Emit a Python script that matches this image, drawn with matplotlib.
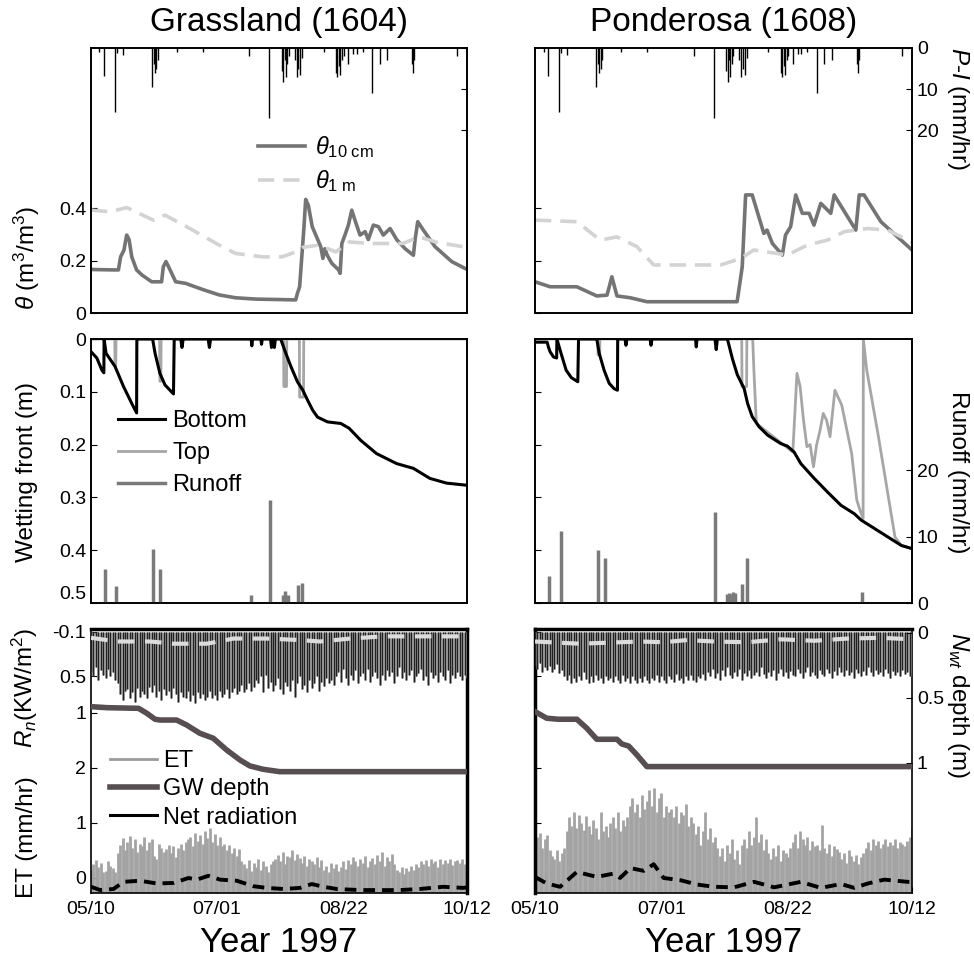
import numpy as np
import matplotlib
matplotlib.use('Agg')
import matplotlib.pyplot as plt
from matplotlib.lines import Line2D

plt.rcParams['font.family'] = 'Liberation Sans'
plt.rcParams['mathtext.fontset'] = 'custom'
plt.rcParams['mathtext.rm'] = 'Liberation Sans'
plt.rcParams['mathtext.it'] = 'Liberation Sans:italic'
plt.rcParams['mathtext.bf'] = 'Liberation Sans:bold'
plt.rcParams['xtick.direction'] = 'in'
plt.rcParams['ytick.direction'] = 'in'
plt.rcParams['axes.linewidth'] = 1.2

# ---- data (days since 05/10/1997) ----
date_ticks = [0, 52, 104, 155]
date_labels = ['05/10', '07/01', '08/22', '10/12']
site_names = ['Grassland (1604)', 'Ponderosa (1608)']

# precipitation minus interception (mm/hr), same storms at both sites
rain_day = [3.5, 5.4, 9.9, 10.6, 13, 25.1, 26.0, 26.5, 27.0, 27.5, 35.5, 46, 65.3, 73.4,
            78.7, 79.2, 79.8, 80.3, 80.8, 81.5, 84.0, 84.8, 85.5, 86.2, 87.0, 96,
            101.0, 101.6, 102.2, 102.8, 103.5, 104.2, 106.0, 108.0, 109.5, 112, 115.8,
            119.0, 122.0, 132.3, 132.7, 133.1, 151.0]
rain_pi = [1.0, 6.8, 15.6, 1.3, 1.8, 9.5, 4.0, 6.0, 5.0, 3.0, 1.0, 1.0, 2.0, 17.0,
           5.5, 8.3, 3.0, 7.0, 4.0, 2.0, 3.0, 7.0, 5.0, 6.5, 2.5, 1.0,
           6.0, 7.0, 4.5, 6.5, 3.0, 2.0, 4.0, 1.5, 1.5, 1.0, 11.0,
           4.0, 3.0, 4.0, 6.0, 3.0, 2.0]

# soil moisture
th10_day_g = [0, 4.5, 11.3, 12.2, 13.6, 14.7, 15.7, 16.8, 18.8, 21, 25, 29.1, 29.8, 30.9, 32,
              34.9, 39, 45.9, 52.8, 59.6, 67.9, 84.4, 85.1, 86.0, 87.8, 88.5, 89.6, 91.2, 94.7,
              95.6, 96.4, 97.4, 99.3, 102.1, 102.7, 103.4, 104.8, 106.1, 107.5, 108.8, 110.9,
              113, 114.3, 116.4, 118.5, 120.5, 123.3, 126.0, 129.5, 132.9, 133.6, 134.7, 137,
              141.8, 148.7, 155]
th10_g = [0.166, 0.165, 0.164, 0.214, 0.24, 0.297, 0.28, 0.214, 0.164, 0.145, 0.119, 0.119,
          0.176, 0.196, 0.176, 0.119, 0.113, 0.09, 0.069, 0.058, 0.053, 0.05, 0.075, 0.1, 0.329,
          0.433, 0.41, 0.329, 0.253, 0.208, 0.245, 0.22, 0.189, 0.164, 0.151, 0.265, 0.30, 0.335,
          0.392, 0.354, 0.297, 0.31, 0.28, 0.335, 0.329, 0.297, 0.322, 0.28, 0.245, 0.22, 0.28,
          0.348, 0.316, 0.253, 0.196, 0.166]
th1m_day_g = [0, 8, 14.7, 25.7, 30.5, 39.4, 52.8, 59.6, 70.6, 78.8, 84.4, 87.2, 94, 100.9,
              106.5, 114.8, 128.5, 135.4, 142.3, 155]
th1m_g = [0.392, 0.386, 0.402, 0.354, 0.373, 0.329, 0.259, 0.227, 0.214, 0.214, 0.233, 0.25,
          0.259, 0.233, 0.271, 0.265, 0.265, 0.29, 0.27, 0.25]

th10_day_p = [0, 6.2, 17.2, 25.4, 29.6, 31.6, 33.7, 39.2, 46.0, 83.1, 85.2, 86.6, 89.3, 94.1,
              95.4, 97.6, 101.7, 103, 105.1, 107.2, 109.9, 112.7, 114.7, 117.5, 121.6, 123,
              131.9, 133.3, 135.3, 142.2, 155]
th10_p = [0.119, 0.1, 0.1, 0.065, 0.068, 0.138, 0.065, 0.058, 0.043, 0.043, 0.176, 0.45, 0.45,
          0.303, 0.316, 0.265, 0.221, 0.297, 0.329, 0.45, 0.38, 0.38, 0.335, 0.418, 0.38, 0.45,
          0.316, 0.45, 0.45, 0.348, 0.24]
th1m_day_p = [0, 17.2, 26.8, 33.7, 41.9, 48.8, 76.3, 84.6, 90.0, 103.8, 112, 120.3, 127.2,
              136.8, 145, 155]
th1m_p = [0.354, 0.348, 0.278, 0.29, 0.253, 0.183, 0.183, 0.208, 0.24, 0.221, 0.259, 0.278,
          0.31, 0.322, 0.316, 0.27]

# wetting front depth (m)
wfb_day_g = [0, 2.4, 4.5, 5.3, 5.4, 6.2, 9.9, 13.4, 16.8, 18.8, 18.9, 25.4, 26.4, 28.4, 30.5,
             34.0, 34.3, 37, 37.5, 38, 48.3, 48.8, 49.3, 66, 66.3, 66.6, 70, 70.3, 70.6, 74,
             74.4, 74.8, 75.3, 75.6, 76, 78.2, 80.3, 82.4, 85.1, 87.2, 89.3, 91.4, 93.4, 97.5,
             103, 106.4, 111.2, 117.7, 126, 132.9, 139.7, 146.6, 155]
wfb_g = [0.024, 0.036, 0.059, 0.064, 0, 0.027, 0.052, 0.09, 0.122, 0.14, 0, 0, 0.027, 0.065,
         0.087, 0.104, 0, 0, 0.016, 0, 0, 0.016, 0, 0, 0.013, 0, 0, 0.01, 0, 0, 0.016, 0, 0.012,
         0.016, 0, 0, 0.027, 0.052, 0.081, 0.096, 0.116, 0.135, 0.148, 0.157, 0.16, 0.169, 0.192,
         0.217, 0.236, 0.245, 0.264, 0.273, 0.277]
wft_day_g = [0, 9.8, 9.9, 10.2, 10.3, 28.3, 28.4, 28.8, 28.9, 79.4, 79.5, 80.6, 80.7, 85.9,
             86.0, 87.6, 87.7, 155]
wft_g = [0, 0, 0.05, 0.05, 0, 0, 0.08, 0.08, 0, 0, 0.09, 0.09, 0, 0, 0.11, 0.11, 0, 0]

wfb_day_p = [0, 5, 5.5, 6.2, 7.6, 8.9, 9.0, 10.7, 12.8, 14.9, 17.6, 17.9, 25.4, 26.4, 28.4,
             30.5, 32.5, 33.9, 34.0, 37, 37.4, 37.8, 47.3, 47.7, 48.1, 66, 66.3, 66.6, 74, 74.5,
             75, 79.1, 81.2, 83.2, 86, 87.4, 89.3, 92.1, 95.6, 101, 103.8, 106.5, 109.3, 114.8,
             120.3, 125.8, 131.3, 134.1, 139.6, 145.1, 150.6, 155]
wfb_p = [0.006, 0.006, 0.015, 0.024, 0.034, 0.036, 0, 0.027, 0.059, 0.073, 0.081, 0, 0, 0.027,
         0.059, 0.084, 0.094, 0.097, 0, 0, 0.012, 0, 0, 0.012, 0, 0, 0.015, 0, 0, 0.02, 0, 0,
         0.038, 0.068, 0.094, 0.122, 0.147, 0.166, 0.182, 0.198, 0.203, 0.214, 0.236, 0.264,
         0.29, 0.315, 0.331, 0.343, 0.359, 0.375, 0.391, 0.397]
wft_day_p = [0, 25.8, 25.9, 26.6, 26.7, 85.0, 85.1, 87.0, 87.1, 89.5, 90.0, 91.0, 106.0, 107.7,
             109, 110.4, 111.8, 113.1, 114.5, 115.8, 117.2, 118.5, 119.9, 121.3, 123.3, 126.1,
             130.2, 132.3, 133.6, 134.9, 135.0, 136.4, 141.2, 148, 150.6, 155]
wft_p = [0, 0, 0.03, 0.03, 0, 0, 0.09, 0.09, 0, 0, 0.059, 0.16, 0.214, 0.065, 0.09, 0.154,
         0.204, 0.2, 0.242, 0.2, 0.173, 0.141, 0.154, 0.185, 0.097, 0.125, 0.217, 0.305, 0.324,
         0.34, 0, 0.059, 0.185, 0.375, 0.391, 0.397]

# runoff (mm/hr)
ro_day_g = [5.8, 10.2, 25.4, 28.4, 66, 73.8, 79, 80.1, 81.2, 85.2, 86.8]
ro_g = [5.1, 2.5, 8.1, 5.1, 1.2, 15.5, 1.2, 1.85, 1.2, 2.7, 3.0]
ro_day_p = [5.9, 10.6, 25.7, 28.6, 74.2, 79.0, 79.8, 80.6, 81.4, 82.2, 85.2, 87.0, 134.4]
ro_p = [4.1, 10.9, 8.0, 6.7, 13.7, 1.3, 1.5, 1.4, 1.6, 1.5, 2.8, 6.7, 1.7]

# daily peak ET (mm/hr), one value per day
et_g = [0.15, 0.25, 0.33, 0.2, 0.28, 0.1, 0.12, 0.3, 0.22, 0.18, 0.1,
        0.45, 0.6, 0.72, 0.5, 0.66, 0.76, 0.55, 0.7, 0.48, 0.62,
        0.58, 0.74, 0.5, 0.65, 0.7, 0.4, 0.35, 0.62, 0.55, 0.48,
        0.52, 0.6, 0.45, 0.58, 0.38, 0.55, 0.62, 0.5, 0.66, 0.7,
        0.75, 0.58, 0.82, 0.68, 0.78, 0.62, 0.85, 0.72, 0.9, 0.66, 0.8, 0.6, 0.74, 0.58, 0.62,
        0.5, 0.6, 0.45, 0.55, 0.4, 0.52, 0.3,
        0.25, 0.18, 0.32, 0.12, 0.28, 0.2, 0.35, 0.15, 0.3, 0.22, 0.1, 0.26, 0.3,
        0.35, 0.42, 0.3, 0.48, 0.25, 0.4, 0.38, 0.5, 0.32, 0.44,
        0.36, 0.28, 0.4, 0.22, 0.34, 0.3, 0.26, 0.38, 0.2, 0.32,
        0.15, 0.22, 0.1, 0.28, 0.18, 0.25, 0.12, 0.2, 0.3, 0.16,
        0.32, 0.25, 0.38, 0.3, 0.22, 0.35, 0.28, 0.4, 0.2, 0.3,
        0.36, 0.25, 0.42, 0.3, 0.47, 0.22, 0.38, 0.3, 0.44, 0.26,
        0.15, 0.1, 0.2, 0.08, 0.18, 0.12, 0.22, 0.15, 0.25, 0.2,
        0.3, 0.25, 0.33, 0.22, 0.35, 0.28, 0.3, 0.2, 0.34, 0.26,
        0.32, 0.28, 0.35, 0.24, 0.3, 0.33, 0.27, 0.34, 0.25, 0.3]
et_p = [0.6, 0.75, 0.82, 0.55, 0.7, 0.78, 0.5,
        0.4, 0.35, 0.5, 0.3, 0.45, 0.55,
        0.85, 1.1, 0.95, 1.2, 0.9, 1.15, 1.0, 0.88, 1.12, 0.95,
        0.8, 1.05, 0.9, 0.7, 1.2, 0.85, 0.95, 0.75,
        1.0, 1.1, 0.9, 1.2, 0.85, 1.05, 0.95,
        1.1, 1.3, 1.45, 1.2, 1.35, 1.1, 1.5, 1.25, 1.4, 1.6, 1.3,
        1.63, 1.2, 1.45, 1.55, 1.1, 1.3, 1.2,
        1.25, 1.1, 1.3, 1.0, 1.2, 1.15, 1.35, 0.95, 1.1, 1.0,
        0.8, 0.95, 0.6, 0.85, 1.2, 0.7, 0.9, 0.65, 0.75, 0.55,
        0.4, 0.55, 0.3, 0.6, 0.45, 0.7, 0.35, 0.5, 0.25, 0.6,
        0.7, 0.55, 0.85, 0.6, 0.75, 1.1, 0.65, 0.8, 0.5, 0.7,
        0.45, 0.35, 0.55, 0.4, 0.6, 0.3, 0.5, 0.45, 0.38, 0.55,
        0.65, 0.8, 0.55, 0.85, 0.7, 0.6, 0.75, 0.5, 0.68, 0.58,
        0.6, 0.5, 0.97, 0.55, 0.45, 0.62, 0.4, 0.58, 0.52, 0.48,
        0.35, 0.45, 0.28, 0.5, 0.4, 0.3, 0.42, 0.25, 0.38, 0.45,
        0.55, 0.65, 0.5, 0.7, 0.6, 0.68, 0.55, 0.62, 0.7, 0.58,
        0.66, 0.6, 0.7, 0.55, 0.65, 0.62, 0.58, 0.68, 0.75, 0.9]

# daily peak net radiation (kW/m2), one value per day
rn_g = [0.45, 0.5, 0.38, 0.55, 0.42, 0.48, 0.52, 0.4, 0.5, 0.45, 0.55, 0.6,
        0.75, 0.82, 0.7, 0.68, 0.8, 0.72, 0.85, 0.66, 0.78, 0.7, 0.74, 0.8, 0.65, 0.72, 0.62,
        0.78, 0.7, 0.82, 0.68,
        0.76, 0.7, 0.8, 0.66, 0.74, 0.85, 0.72, 0.78, 0.8, 0.7, 0.84, 0.76, 0.86, 0.72, 0.8,
        0.75, 0.82, 0.78, 0.7, 0.8,
        0.76, 0.82, 0.7, 0.78, 0.74, 0.68, 0.8, 0.72, 0.66, 0.75, 0.7, 0.62, 0.72, 0.68, 0.6,
        0.7, 0.65,
        0.55, 0.6, 0.5, 0.72, 0.48, 0.66, 0.58, 0.7, 0.62, 0.52, 0.68, 0.75, 0.58, 0.64, 0.7,
        0.55, 0.78, 0.6, 0.5, 0.68, 0.62, 0.72, 0.56, 0.66, 0.6, 0.5, 0.7, 0.58, 0.64, 0.52,
        0.6, 0.55, 0.62,
        0.5, 0.45, 0.58, 0.4, 0.52, 0.62, 0.48, 0.55, 0.42, 0.6, 0.5, 0.46, 0.55, 0.4, 0.58,
        0.5, 0.44, 0.52, 0.62, 0.48, 0.56, 0.42, 0.5, 0.45, 0.6, 0.5, 0.38, 0.52, 0.45, 0.55,
        0.48, 0.42, 0.58, 0.5, 0.46, 0.4, 0.55, 0.5, 0.62, 0.45, 0.52, 0.48, 0.58, 0.44, 0.5,
        0.55, 0.42, 0.6, 0.48, 0.52, 0.45, 0.5, 0.56, 0.48, 0.52]
rn_p = [0.35, 0.4, 0.32, 0.45, 0.38, 0.42, 0.36, 0.44, 0.4, 0.34, 0.46, 0.42,
        0.5, 0.55, 0.48, 0.6, 0.52, 0.58, 0.5, 0.56, 0.45, 0.54, 0.6, 0.5, 0.58, 0.48, 0.55,
        0.52, 0.6, 0.5, 0.56, 0.53, 0.58, 0.5, 0.55, 0.6, 0.48, 0.57, 0.52, 0.59, 0.5, 0.55,
        0.6, 0.53, 0.58, 0.5, 0.56, 0.6, 0.52, 0.55, 0.48, 0.58, 0.5, 0.56, 0.6, 0.5, 0.54,
        0.58, 0.47, 0.55, 0.52, 0.6, 0.5, 0.56, 0.48, 0.55, 0.58, 0.5, 0.53, 0.47, 0.55,
        0.45, 0.5, 0.4, 0.52, 0.46, 0.55, 0.42, 0.5, 0.38, 0.48, 0.53, 0.44, 0.5, 0.4, 0.55,
        0.46, 0.5, 0.42, 0.52, 0.48, 0.44, 0.5, 0.38, 0.47, 0.53, 0.45, 0.5, 0.42, 0.55, 0.46,
        0.4, 0.5, 0.45, 0.52, 0.43, 0.48, 0.5, 0.4, 0.46, 0.53, 0.45, 0.38, 0.5, 0.44, 0.48,
        0.52, 0.42, 0.47, 0.5, 0.4, 0.46, 0.52, 0.43, 0.49, 0.38, 0.45, 0.5, 0.42, 0.48, 0.44,
        0.52, 0.4, 0.46, 0.5, 0.43, 0.48, 0.38, 0.45, 0.5, 0.42, 0.47, 0.44, 0.5, 0.4, 0.46,
        0.52, 0.43, 0.48, 0.45, 0.5, 0.42, 0.47, 0.44, 0.5, 0.45]

# smoothed ET (black dashed) and net radiation (light dashed)
etm_day_g = [0, 3.8, 9.3, 13.4, 20.2, 27.1, 34, 40.2, 43.6, 48.4, 53.2, 60.1, 67, 72.5, 79.3,
             86.2, 91, 95.8, 101.3, 110.9, 120.5, 127.3, 135.6, 145.2, 153.4, 155]
etm_g = [-0.16, -0.22, -0.2, -0.07, -0.05, -0.1, -0.09, 0.0, -0.03, 0.04, -0.03, -0.05, -0.15,
         -0.18, -0.2, -0.18, -0.11, -0.16, -0.2, -0.22, -0.22, -0.22, -0.2, -0.16, -0.18, -0.17]
etm_day_p = [0, 4.8, 10.3, 17.2, 25.4, 32.3, 35, 39.2, 44.7, 48.8, 52.9, 59.8, 66.7, 73.6, 81.8,
             90.1, 98.3, 109.3, 117.5, 125.8, 131.3, 136.8, 143.6, 153.2, 155]
etm_p = [0.02, -0.1, -0.16, 0.11, 0.02, 0.08, 0.0, 0.18, 0.13, 0.25, 0.0, -0.04, -0.12, -0.16,
         -0.17, -0.07, -0.17, -0.07, -0.18, -0.11, -0.18, -0.1, -0.03, -0.07, -0.07]
rnm_day_g = [0, 10.7, 24.4, 34, 47.7, 58.7, 72.4, 86.2, 94.4, 106.8, 120.5, 141.2, 155]
rnm_g = [-0.02, 0.03, 0.03, 0.06, 0.06, -0.01, -0.01, 0.01, 0.03, -0.01, -0.04, -0.04, -0.04]
rnm_day_p = [0, 18.5, 43.3, 52.9, 62.5, 73.6, 87.3, 101, 114.8, 128.5, 142.2, 155]
rnm_p = [0.03, 0.06, 0.03, 0.04, 0.01, 0.03, 0.04, 0.0, 0.02, -0.01, -0.02, 0.0]

# groundwater table depth (m)
gw_day_g = [0, 6.6, 19.6, 23.0, 26.4, 28.5, 35.3, 39.4, 44.9, 50.4, 55.9, 61.4, 65.5, 71, 77.8, 155]
gw_g = [0.567, 0.575, 0.58, 0.618, 0.664, 0.67, 0.67, 0.708, 0.772, 0.81, 0.9, 0.977, 1.023,
        1.049, 1.067, 1.067]
gw_day_p = [0, 4.8, 9.6, 17.2, 21.3, 25.4, 33.7, 35.7, 38.5, 41.9, 46.0, 155]
gw_p = [0.605, 0.656, 0.664, 0.664, 0.733, 0.818, 0.818, 0.854, 0.87, 0.938, 1.028, 1.028]

sites = [
    dict(th10=(th10_day_g, th10_g), th1m=(th1m_day_g, th1m_g), wfb=(wfb_day_g, wfb_g),
         wft=(wft_day_g, wft_g), ro=(ro_day_g, ro_g), et=et_g, rn=rn_g,
         etm=(etm_day_g, etm_g), rnm=(rnm_day_g, rnm_g), gw=(gw_day_g, gw_g)),
    dict(th10=(th10_day_p, th10_p), th1m=(th1m_day_p, th1m_p), wfb=(wfb_day_p, wfb_p),
         wft=(wft_day_p, wft_p), ro=(ro_day_p, ro_p), et=et_p, rn=rn_p,
         etm=(etm_day_p, etm_p), rnm=(rnm_day_p, rnm_p), gw=(gw_day_p, gw_p)),
]

W, H = 974, 964
def rect(x0, y0, x1, y1):
    return [x0 / W, 1 - y1 / H, (x1 - x0) / W, (y1 - y0) / H]

fig = plt.figure(figsize=(W / 100, H / 100), dpi=100)
cols = [(91, 467), (535, 912)]
TICK = 14
LAB = 17.5
LIGHT = '#d3d3d3'
GWC = '#574e52'

for i, s in enumerate(sites):
    x0, x1 = cols[i]
    left = (i == 0)

    # --- soil moisture + rain ---
    ax = fig.add_axes(rect(x0, 48, x1, 313))
    h1, = ax.plot(*s['th10'], color='#747474', lw=2.6, label=r'$\theta_{\rm 10\ cm}$')
    h2, = ax.plot(*s['th1m'], color=LIGHT, lw=2.6, dashes=(4.5, 2.5), label=r'$\theta_{\rm 1\ m}$')
    ax.set_xlim(0, 155)
    ax.set_ylim(0, 1.01)
    ax.set_xticks([])
    ax.set_yticks([0, 0.2, 0.4])
    ax.set_yticklabels(['0', '0.2', '0.4'] if left else [])
    ax.tick_params(axis='y', right=True, labelsize=TICK, length=4)
    axp = ax.twinx()
    axp.vlines(rain_day, 0, rain_pi, color='k', lw=1.0)
    axp.set_ylim(64.6, 0)
    axp.set_yticks([0, 10, 20])
    axp.set_yticklabels([] if left else ['0', '10', '20'])
    axp.tick_params(axis='y', labelsize=TICK, length=4)
    if left:
        axp.legend([h1, h2], [h1.get_label(), h2.get_label()], loc='upper left',
                   bbox_to_anchor=(258 / W, 1 - 134 / H), bbox_transform=fig.transFigure,
                   frameon=False, fontsize=17, handlelength=2.0, handletextpad=0.4,
                   labelspacing=0.35, borderpad=0, borderaxespad=0)

    # --- wetting front + runoff ---
    axw = fig.add_axes(rect(x0, 339, x1, 603))
    ht, = axw.plot(*s['wft'], color='#a6a6a6', lw=2.0)
    hb, = axw.plot(*s['wfb'], color='k', lw=2.2)
    axw.set_xlim(0, 155)
    axw.set_ylim(0.5, 0)
    axw.set_xticks([])
    axw.set_yticks([0, 0.1, 0.2, 0.3, 0.4, 0.5])
    axw.set_yticklabels(['0', '0.1', '0.2', '0.3', '0.4', '0.5'] if left else [])
    axw.tick_params(axis='y', labelsize=TICK, length=4)
    if left:
        axw.get_yticklabels()[-1].set_va('bottom')
    axr = axw.twinx()
    axr.vlines(s['ro'][0], 0, s['ro'][1], color='#7a7a7a', lw=2.5)
    axr.set_ylim(0, 39.7)
    if left:
        axr.set_yticks([])
        axr.legend([hb, ht, Line2D([], [], color='#7a7a7a', lw=2.5)],
                   ['Bottom', 'Top', 'Runoff'], loc='upper left',
                   bbox_to_anchor=(118 / W, 1 - 410 / H), bbox_transform=fig.transFigure,
                   frameon=False, fontsize=17, handlelength=2.0, handletextpad=0.3,
                   labelspacing=0.42, borderpad=0, borderaxespad=0)
    else:
        axr.set_yticks([0, 10, 20])
        axr.set_yticklabels(['0', '10', '20'])
        axr.tick_params(axis='y', labelsize=TICK, length=4)

    # --- ET, net radiation, groundwater ---
    r = rect(x0, 629, x1, 893)
    axe = fig.add_axes(r)
    et_days = np.arange(len(s['et']))
    axe.vlines(et_days, -0.27, s['et'], color='#a3a3a3', lw=2.0)
    axe.plot(*s['etm'], color='k', lw=2.8, dashes=(3, 1.8))
    axe.set_xlim(0, 155)
    axe.set_ylim(-0.273, 4.527)
    axe.set_yticks([0, 1, 2])
    axe.set_yticklabels(['0', '1', '2'] if left else [])
    axe.set_xticks(date_ticks)
    axe.set_xticklabels(date_labels)
    axe.tick_params(axis='x', labelsize=TICK, length=4, pad=6)
    axe.tick_params(axis='y', labelsize=TICK, length=4)
    axe.spines['top'].set_linewidth(2.5)
    axe.spines['right' if left else 'left'].set_linewidth(2.5)

    axn = fig.add_axes(r, frameon=False)
    rn_days = np.arange(len(s['rn']))
    axn.vlines(rn_days, -0.1, s['rn'], color='#6e6e6e', lw=1.8)
    axn.vlines(rn_days, -0.1, s['rn'], color='#111111', lw=0.6)
    axn.plot(*s['rnm'], color='#dcdcdc', lw=3.0, dashes=(4, 2.5))
    axn.set_xlim(0, 155)
    axn.set_ylim(3.45, -0.14)
    axn.set_xticks([])
    axn.set_yticks([-0.1, 0.5, 1])
    axn.set_yticklabels(['-0.1', '0.5', '1'] if left else [])
    axn.tick_params(axis='y', labelsize=TICK, length=4)

    axg = fig.add_axes(r, frameon=False)
    axg.plot(*s['gw'], color=GWC, lw=4.0)
    axg.set_xlim(0, 155)
    axg.set_ylim(2.0, -0.03)
    axg.set_xticks([])
    axg.yaxis.tick_right()
    if left:
        axg.set_yticks([])
        axg.legend([Line2D([], [], color='#9b9b9b', lw=2),
                    Line2D([], [], color=GWC, lw=4),
                    Line2D([], [], color='k', lw=2.2)],
                   ['ET', 'GW depth', 'Net radiation'], loc='upper left',
                   bbox_to_anchor=(110 / W, 1 - 750 / H), bbox_transform=fig.transFigure,
                   frameon=False, fontsize=17, handlelength=2.0, handletextpad=0.25,
                   labelspacing=0.27, borderpad=0, borderaxespad=0)
    else:
        axg.set_yticks([0, 0.5, 1])
        axg.set_yticklabels(['0', '0.5', '1'])
        axg.tick_params(axis='y', labelsize=TICK, length=4)

    xc = (x0 + x1) / 2
    fig.text(xc / W, 1 - 22 / H, site_names[i], ha='center', va='center', fontsize=24)
    fig.text(xc / W, 1 - 943 / H, 'Year 1997', ha='center', va='center', fontsize=25)

# axis titles
fig.text(27 / W, 1 - 258 / H, r'$\theta$ (m$^3$/m$^3$)', rotation=90, ha='center', va='center', fontsize=LAB)
fig.text(27 / W, 1 - 472 / H, 'Wetting front (m)', rotation=90, ha='center', va='center', fontsize=LAB)
fig.text(25 / W, 1 - 688 / H, r'$R_n$(KW/m$^2$)', rotation=90, ha='center', va='center', fontsize=LAB)
fig.text(27 / W, 1 - 837 / H, 'ET (mm/hr)', rotation=90, ha='center', va='center', fontsize=LAB)
fig.text(958 / W, 1 - 109 / H, r'$P$-$I$ (mm/hr)', rotation=270, ha='center', va='center', fontsize=LAB)
fig.text(958 / W, 1 - 472 / H, 'Runoff (mm/hr)', rotation=270, ha='center', va='center', fontsize=LAB)
fig.text(958 / W, 1 - 705 / H, r'$N_{wt}$ depth (m)', rotation=270, ha='center', va='center', fontsize=LAB)

fig.savefig('out.png', dpi=100)
